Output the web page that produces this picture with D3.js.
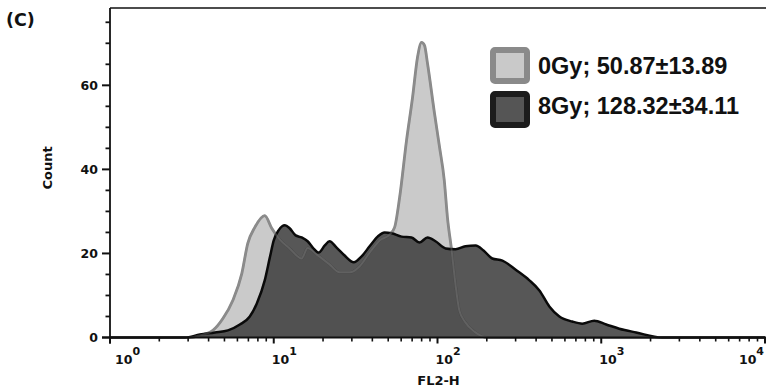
<!DOCTYPE html>
<html>
<head>
<meta charset="utf-8">
<script src="https://cdn.jsdelivr.net/npm/d3@7"></script>
<style>
  body { margin: 0; background: #fff; }
  svg { display: block; }
</style>
</head>
<body>
<div id="chart"></div>
<script>
// FL2-H channel values and counts
const fl2_0Gy = [1, 3.08, 3.54, 4.25, 4.89, 5.62, 6.38, 6.94, 7.66, 8.81, 9.72, 10.9, 12.5, 14.8, 16.1, 18.5, 21.9, 25.2, 29.1, 33.4, 38.5, 44.3, 51, 54.7, 58.7, 64.7, 70.4, 75.5, 79.9, 83.3, 86.9, 95.9, 103, 110, 115, 122, 129, 136, 148, 168, 202, 10000];
const count_0Gy = [0, 0, 0.5, 1.7, 4.5, 8.8, 15.2, 22.4, 26.2, 29, 26, 23.3, 21.2, 18.8, 21.3, 19.6, 17.4, 15.5, 15.5, 16.9, 20.2, 23.1, 24.5, 26.2, 33.3, 46.9, 57.1, 66.7, 70.2, 69.5, 65.2, 53.3, 45.2, 37.4, 28.6, 20.7, 12.4, 6.4, 3.6, 1.4, 0, 0];

const fl2_8Gy = [1, 2.87, 3.54, 4.37, 5.25, 6.21, 7.14, 7.88, 8.81, 9.46, 10, 10.7, 11.7, 12.5, 13.6, 14.8, 16.1, 17.3, 18.8, 20.5, 21.9, 24.2, 27.1, 30.8, 34.4, 38.5, 43.1, 47.5, 52.5, 60.3, 69.4, 77.6, 86.9, 97.2, 112, 129, 148, 171, 191, 216, 249, 303, 364, 419, 482, 555, 665, 766, 906, 1072, 1288, 1633, 2355, 10000];
const count_8Gy = [0, 0, 0.7, 1.2, 1.7, 3.1, 5, 8.1, 13.6, 19, 23.1, 25.5, 26.7, 26, 24.3, 23.8, 22.9, 21.4, 20.2, 21.9, 22.9, 21.4, 19.5, 17.9, 19.3, 21.7, 24, 25, 24.8, 24, 23.8, 22.6, 23.8, 22.9, 21.2, 21, 21.7, 21.9, 20.7, 18.8, 18.3, 16, 13.6, 11.2, 7.4, 5, 3.8, 3.3, 4, 3.1, 2.1, 1.2, 0, 0];

const yMajor = [0, 20, 40, 60];
const yMinor = [5, 10, 15, 25, 30, 35, 45, 50, 55, 65, 70, 75];
const xDecades = [1, 10, 100, 1000, 10000];
const xExponents = ["0", "1", "2", "3", "4"];
const legendLabels = ["0Gy; 50.87\u00b113.89", "8Gy; 128.32\u00b134.11"];

const width = 766, height = 392;
const mLeft = 110, mRight = 765, mTop = 8, mBottom = 337.5;

const svg = d3.select("#chart").append("svg")
  .attr("width", width).attr("height", height)
  .attr("viewBox", [0, 0, width, height]);

const x = d3.scaleLog().domain([1, 10000]).range([mLeft, mRight]);
const y = d3.scaleLinear().domain([0, 78.4]).range([mBottom, mTop]);

const area = d3.area()
  .x(d => x(d[0])).y0(y(0)).y1(d => y(d[1]))
  .curve(d3.curveMonotoneX);
const line = d3.line()
  .x(d => x(d[0])).y(d => y(d[1]))
  .curve(d3.curveMonotoneX);

const data0 = d3.zip(fl2_0Gy, count_0Gy);
const data8 = d3.zip(fl2_8Gy, count_8Gy);

// 0Gy underneath
svg.append("path").attr("d", area(data0)).attr("fill", "#cacaca");
svg.append("path").attr("d", line(data0)).attr("fill", "none")
  .attr("stroke", "#858585").attr("stroke-width", 2.8);

// 8Gy on top, slightly see-through
svg.append("path").attr("d", area(data8)).attr("fill", "#404040").attr("fill-opacity", 0.88);
svg.append("path").attr("d", line(data8)).attr("fill", "none")
  .attr("stroke", "#0a0a0a").attr("stroke-width", 2.5);

// faint 0Gy outline showing through
svg.append("path").attr("d", line(data0)).attr("fill", "none")
  .attr("stroke", "#9a9a9a").attr("stroke-opacity", 0.3).attr("stroke-width", 2);

// frame / axes
const ax = svg.append("g").attr("stroke", "#111").attr("fill", "none");
ax.append("line").attr("x1", mLeft).attr("x2", width).attr("y1", mTop).attr("y2", mTop).attr("stroke-width", 1.5);
ax.append("line").attr("x1", mLeft).attr("x2", mLeft).attr("y1", mTop).attr("y2", mBottom + 6).attr("stroke-width", 1.8);
ax.append("line").attr("x1", mLeft - 8).attr("x2", width).attr("y1", mBottom).attr("y2", mBottom).attr("stroke-width", 2);

// y ticks
ax.selectAll(".ymaj").data(yMajor).join("line")
  .attr("x1", mLeft - 8).attr("x2", mLeft).attr("y1", d => y(d)).attr("y2", d => y(d)).attr("stroke-width", 2);
ax.selectAll(".ymin").data(yMinor).join("line")
  .attr("x1", mLeft - 4.5).attr("x2", mLeft).attr("y1", d => y(d)).attr("y2", d => y(d)).attr("stroke-width", 1.8);

svg.selectAll(".ylab").data(yMajor).join("text")
  .attr("x", mLeft - 12).attr("y", d => y(d)).attr("dy", "0.36em")
  .attr("text-anchor", "end")
  .attr("font-family", "DejaVu Sans").attr("font-weight", "bold").attr("font-size", 12.5)
  .attr("fill", "#111").text(d => d);

// x ticks
const xMinor = [];
xDecades.slice(0, -1).forEach(dec => { for (let k = 2; k <= 9; k++) xMinor.push(dec * k); });
ax.selectAll(".xmaj").data(xDecades).join("line")
  .attr("x1", d => x(d)).attr("x2", d => x(d)).attr("y1", mBottom).attr("y2", mBottom + 6).attr("stroke-width", 2);
ax.selectAll(".xmin").data(xMinor).join("line")
  .attr("x1", d => x(d)).attr("x2", d => x(d)).attr("y1", mBottom).attr("y2", mBottom + 4).attr("stroke-width", 1.6);

const xl = svg.selectAll(".xlab").data(xDecades).join("text")
  .attr("x", (d, i) => i === 0 ? x(d) + 5 : (i === xDecades.length - 1 ? x(d) - 1 : x(d) - 2))
  .attr("y", mBottom + 26)
  .attr("text-anchor", (d, i) => i === xDecades.length - 1 ? "end" : "start")
  .attr("font-family", "DejaVu Sans").attr("font-weight", "bold").attr("font-size", 12.5)
  .attr("fill", "#111");
xl.append("tspan").text("10");
xl.append("tspan").attr("dy", -9).attr("font-size", 11).text((d, i) => xExponents[i]);

// axis titles
svg.append("text").attr("x", (mLeft + mRight) / 2 + 1).attr("y", 385)
  .attr("text-anchor", "middle")
  .attr("font-family", "DejaVu Sans").attr("font-weight", "bold").attr("font-size", 13)
  .attr("fill", "#111").text("FL2-H");
svg.append("text").attr("transform", "translate(52,168) rotate(-90)")
  .attr("text-anchor", "middle")
  .attr("font-family", "DejaVu Sans").attr("font-weight", "bold").attr("font-size", 13)
  .attr("fill", "#111").text("Count");

svg.append("text").attr("x", 6).attr("y", 26)
  .attr("font-family", "DejaVu Sans").attr("font-weight", "bold").attr("font-size", 17.5)
  .attr("fill", "#111").text("(C)");

// legend
const legFill = ["#c9c9c9", "#555555"];
const legStroke = ["#8a8a8a", "#1c1c1c"];
const leg = svg.selectAll(".leg").data(legendLabels).join("g")
  .attr("transform", (d, i) => `translate(490,${47 + i * 44})`);
leg.append("rect").attr("x", 3).attr("y", 3).attr("width", 34).attr("height", 31).attr("rx", 2)
  .attr("fill", (d, i) => legFill[i]).attr("stroke", (d, i) => legStroke[i]).attr("stroke-width", 6);
leg.append("text").attr("x", 48).attr("y", (d, i) => i === 0 ? 26.5 : 22.5)
  .attr("font-family", "Liberation Sans, Arial").attr("font-weight", "bold").attr("font-size", 23.5)
  .attr("fill", "#111").text(d => d);
</script>
</body>
</html>
